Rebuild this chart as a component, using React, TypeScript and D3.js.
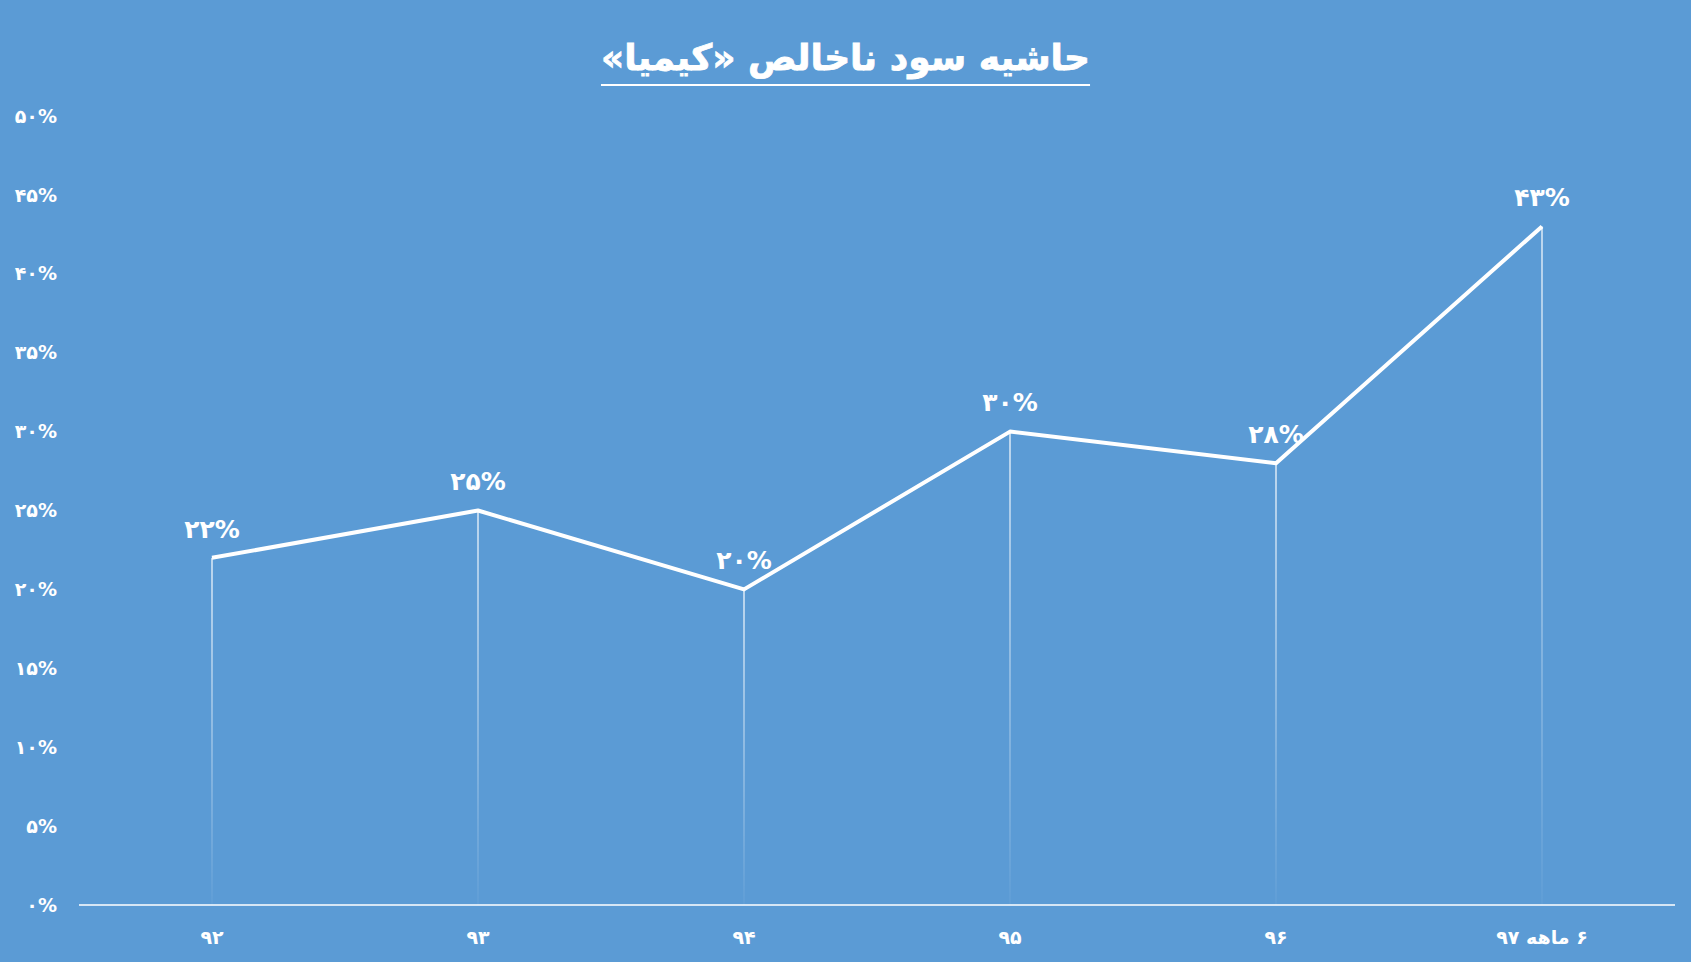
import React, { useEffect, useRef } from "react";
import * as d3 from "d3";

const categories: string[] = ["۹۲", "۹۳", "۹۴", "۹۵", "۹۶", "۶ ماهه ۹۷"];
const grossMargin: number[] = [22, 25, 20, 30, 28, 43];
const yTicks: number[] = [0, 5, 10, 15, 20, 25, 30, 35, 40, 45, 50];
const title = "حاشیه سود ناخالص «کیمیا»";

const W = 1691;
const H = 962;
const BG = "#5B9BD5";
const FONT = "'DejaVu Sans', sans-serif";

const faDigits = (s: string) => s.replace(/[0-9]/g, (c) => "۰۱۲۳۴۵۶۷۸۹"[+c]);
const pct = (v: number) => faDigits(String(v)) + "%";

export default function App() {
  const ref = useRef<SVGSVGElement | null>(null);

  useEffect(() => {
    const svg = d3.select(ref.current);
    svg.selectAll("*").remove();

    const x = d3.scaleBand<string>().domain(categories).range([79, 1675]);
    const y = d3.scaleLinear().domain([0, 50]).range([905, 116]);
    const cx = (c: string) => (x(c) as number) + x.bandwidth() / 2;

    const defs = svg.append("defs");
    const grad = defs
      .append("linearGradient")
      .attr("id", "dropGrad")
      .attr("x1", 0)
      .attr("y1", 0)
      .attr("x2", 0)
      .attr("y2", 1);
    grad.append("stop").attr("offset", "0%").attr("stop-color", "#fff").attr("stop-opacity", 1);
    grad.append("stop").attr("offset", "100%").attr("stop-color", "#fff").attr("stop-opacity", 0.05);

    svg.append("rect").attr("width", W).attr("height", H).attr("fill", BG);

    // title
    const t = svg
      .append("text")
      .attr("x", W / 2)
      .attr("y", 70)
      .attr("text-anchor", "middle")
      .attr("direction", "rtl")
      .attr("fill", "#fff")
      .attr("stroke", "#fff")
      .attr("stroke-width", 0.8)
      .attr("font-family", FONT)
      .attr("font-weight", "bold")
      .attr("font-size", 36)
      .text(title);
    const bb = (t.node() as SVGTextElement).getBBox();
    svg
      .append("line")
      .attr("x1", bb.x)
      .attr("x2", bb.x + bb.width)
      .attr("y1", 85)
      .attr("y2", 85)
      .attr("stroke", "#fff")
      .attr("stroke-width", 2);

    // y tick labels
    svg
      .append("g")
      .selectAll("text")
      .data(yTicks)
      .join("text")
      .attr("x", 57)
      .attr("y", (d) => y(d))
      .attr("dy", "0.35em")
      .attr("text-anchor", "end")
      .attr("fill", "#fff")
      .attr("font-family", FONT)
      .attr("font-weight", "bold")
      .attr("font-size", 19)
      .text((d) => pct(d));

    // drop lines
    svg
      .append("g")
      .selectAll("rect")
      .data(categories)
      .join("rect")
      .attr("x", (c) => cx(c) - 0.6)
      .attr("width", 1.2)
      .attr("y", (c, i) => y(grossMargin[i]))
      .attr("height", (c, i) => y(0) - y(grossMargin[i]))
      .attr("fill", "url(#dropGrad)");

    // x axis line
    svg
      .append("line")
      .attr("x1", 79)
      .attr("x2", 1675)
      .attr("y1", y(0))
      .attr("y2", y(0))
      .attr("stroke", "#fff")
      .attr("stroke-width", 1.5);

    // x labels
    svg
      .append("g")
      .selectAll("text")
      .data(categories)
      .join("text")
      .attr("x", (c) => cx(c))
      .attr("y", 937)
      .attr("dy", "0.35em")
      .attr("text-anchor", "middle")
      .attr("direction", "rtl")
      .attr("fill", "#fff")
      .attr("font-family", FONT)
      .attr("font-weight", "bold")
      .attr("font-size", 19)
      .text((c) => c);

    // line
    const line = d3
      .line<number>()
      .x((d, i) => cx(categories[i]))
      .y((d) => y(d));
    svg
      .append("path")
      .attr("d", line(grossMargin) as string)
      .attr("fill", "none")
      .attr("stroke", "#fff")
      .attr("stroke-width", 4)
      .attr("stroke-linejoin", "round");

    // data labels
    svg
      .append("g")
      .selectAll("text")
      .data(grossMargin)
      .join("text")
      .attr("x", (d, i) => cx(categories[i]))
      .attr("y", (d) => y(d) - 29)
      .attr("dy", "0.35em")
      .attr("text-anchor", "middle")
      .attr("fill", "#fff")
      .attr("font-family", FONT)
      .attr("font-weight", "bold")
      .attr("font-size", 25)
      .text((d) => pct(d));
  }, []);

  return (
    <div style={{ position: "fixed", left: 0, top: 0, width: W, height: H, background: BG }}>
      <svg ref={ref} width={W} height={H} style={{ display: "block" }} />
    </div>
  );
}
